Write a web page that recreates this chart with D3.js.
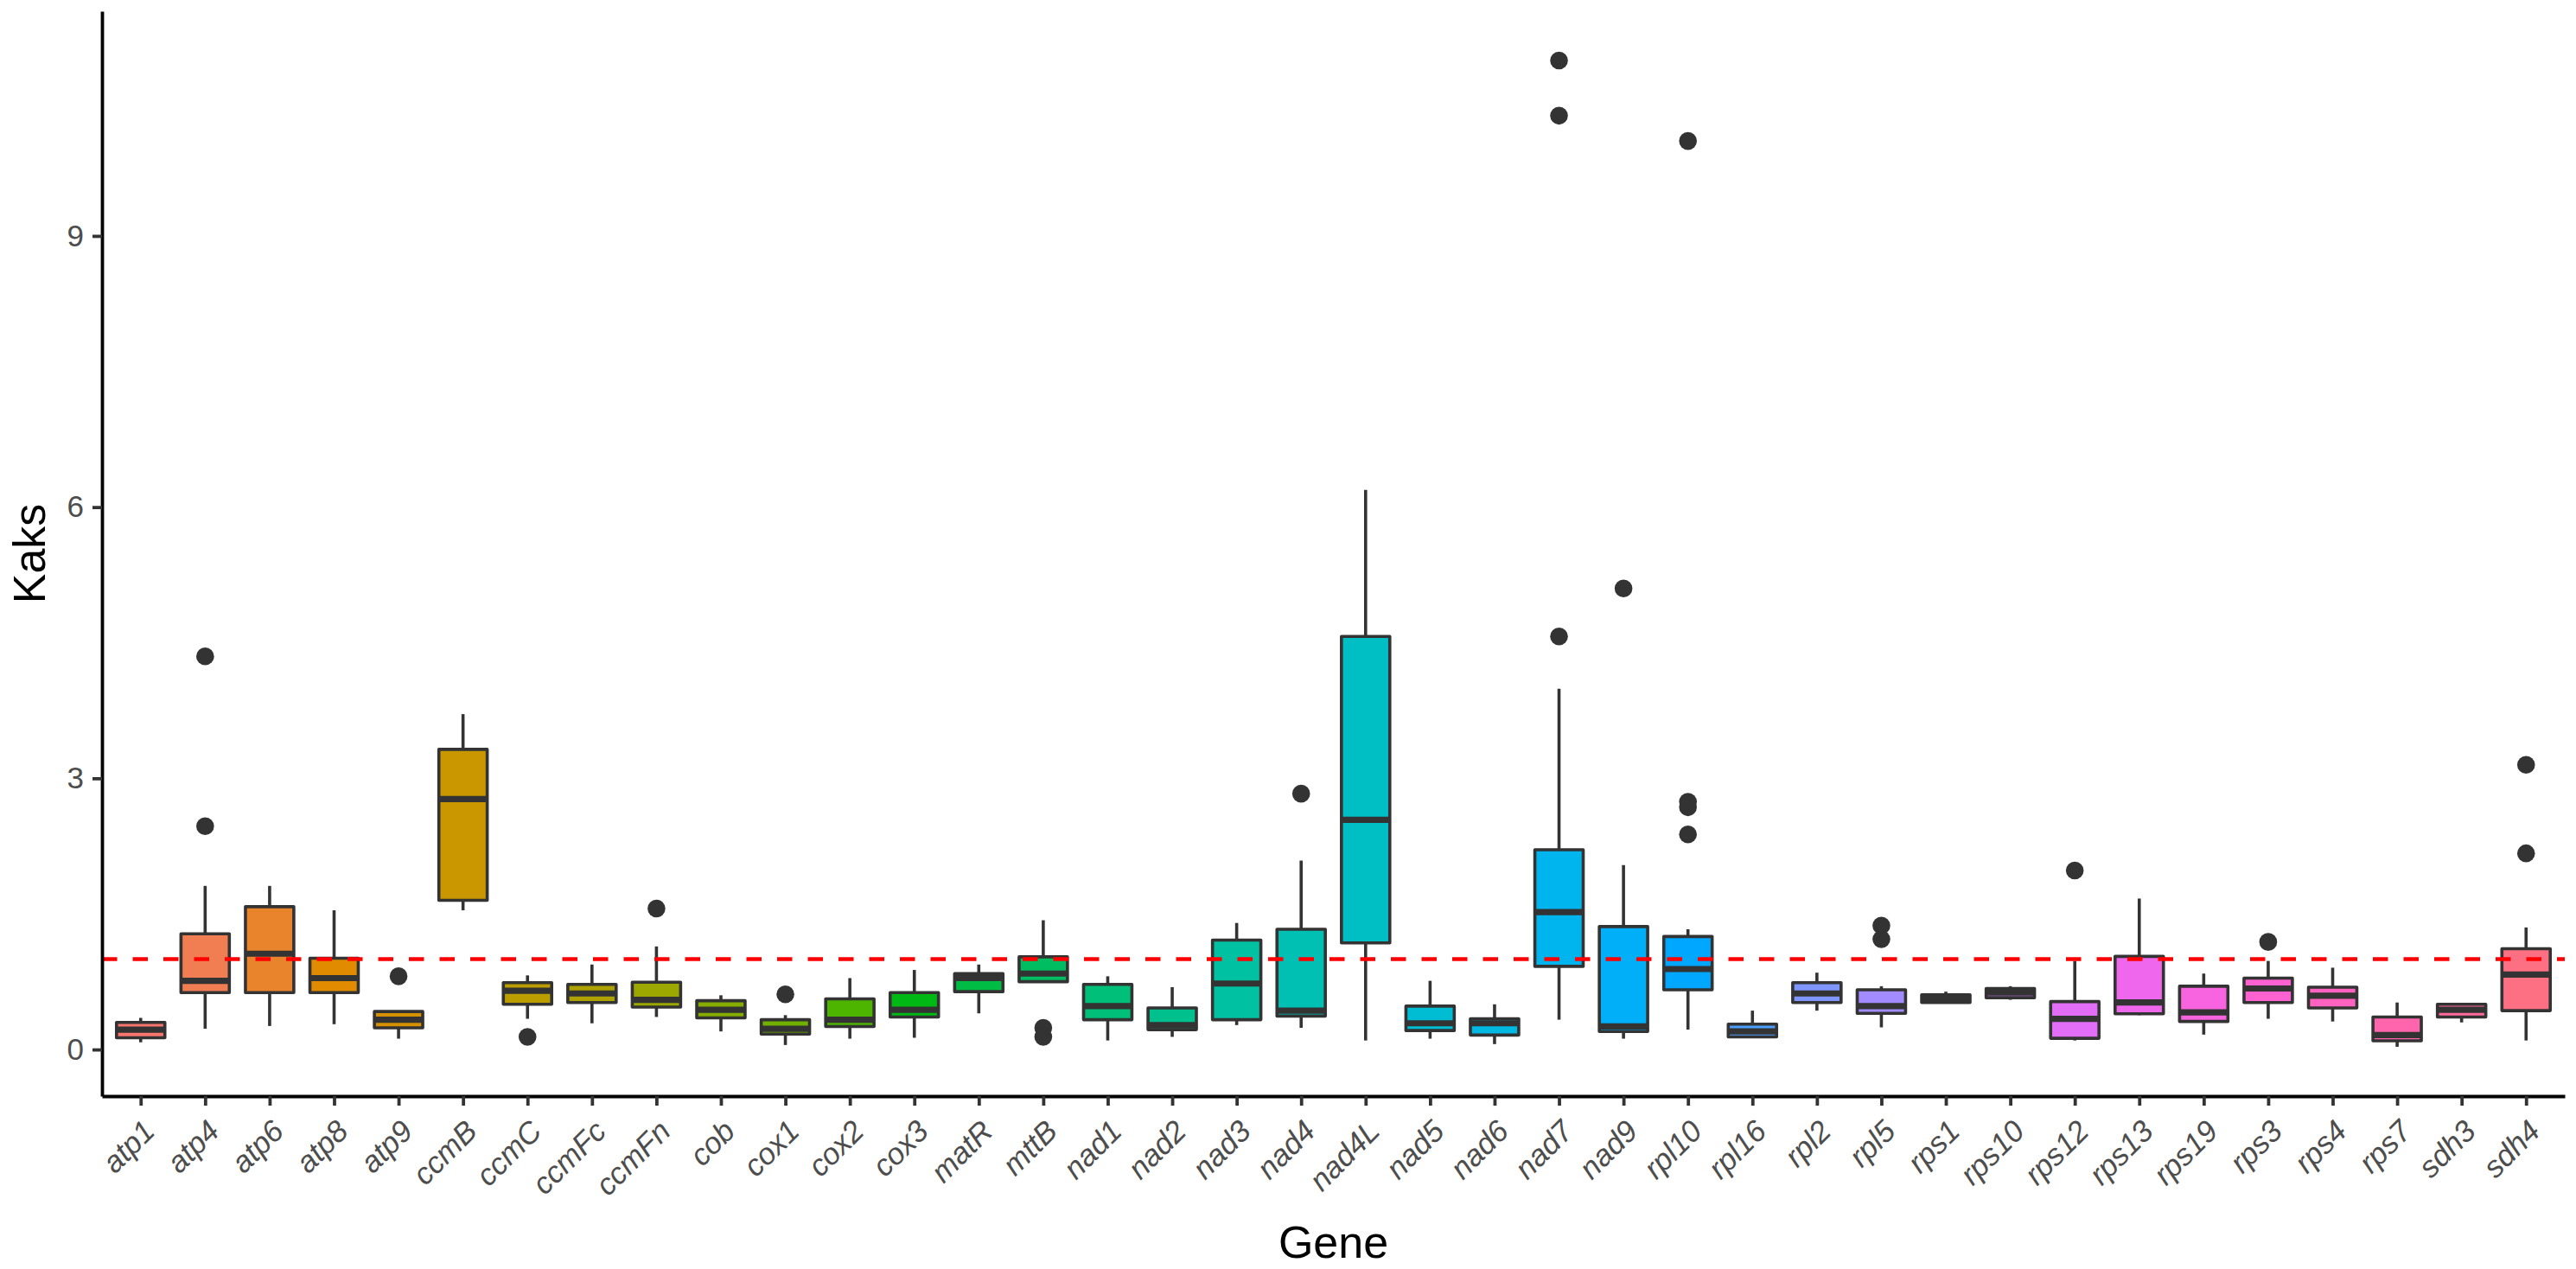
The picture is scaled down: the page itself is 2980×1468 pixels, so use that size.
<!DOCTYPE html>
<html>
<head>
<meta charset="utf-8">
<script src="https://cdn.jsdelivr.net/npm/d3@7"></script>
<style>
	body { margin: 0; background: #fff; }
	text { font-family: "Liberation Sans", Arial, sans-serif; }
</style>
</head>
<body>
<div id="chart"></div>
<script>

// genes on the x axis
var genes = ['atp1', 'atp4', 'atp6', 'atp8', 'atp9', 'ccmB', 'ccmC', 'ccmFc', 'ccmFn', 'cob',
	'cox1', 'cox2', 'cox3', 'matR', 'mttB', 'nad1', 'nad2', 'nad3', 'nad4', 'nad4L',
	'nad5', 'nad6', 'nad7', 'nad9', 'rpl10', 'rpl16', 'rpl2', 'rpl5', 'rps1', 'rps10',
	'rps12', 'rps13', 'rps19', 'rps3', 'rps4', 'rps7', 'sdh3', 'sdh4'];

// box statistics
var whiskerLow = [0.08, 0.23, 0.26, 0.28, 0.12, 1.54, 0.34, 0.29, 0.36, 0.20,
	0.05, 0.12, 0.13, 0.40, 0.75, 0.10, 0.14, 0.27, 0.24, 0.10,
	0.12, 0.06, 0.33, 0.12, 0.22, 0.14, 0.43, 0.245, 0.52, 0.55,
	0.10, 0.38, 0.165, 0.34, 0.31, 0.03, 0.30, 0.10];
var q1 = [0.13, 0.63, 0.63, 0.63, 0.24, 1.65, 0.50, 0.52, 0.47, 0.35,
	0.17, 0.255, 0.36, 0.64, 0.75, 0.33, 0.22, 0.33, 0.37, 1.18,
	0.21, 0.16, 0.92, 0.20, 0.66, 0.14, 0.52, 0.40, 0.52, 0.573,
	0.124, 0.395, 0.31, 0.52, 0.46, 0.096, 0.36, 0.43];
var median = [0.22, 0.76, 1.06, 0.79, 0.33, 2.77, 0.65, 0.62, 0.55, 0.44,
	0.23, 0.33, 0.44, 0.79, 0.84, 0.48, 0.27, 0.73, 0.43, 2.54,
	0.29, 0.29, 1.52, 0.255, 0.89, 0.20, 0.62, 0.48, 0.56, 0.63,
	0.34, 0.52, 0.41, 0.675, 0.595, 0.16, 0.44, 0.83];
var q3 = [0.30, 1.28, 1.58, 1.01, 0.42, 3.32, 0.74, 0.72, 0.745, 0.54,
	0.33, 0.56, 0.63, 0.84, 1.025, 0.72, 0.46, 1.21, 1.33, 4.57,
	0.48, 0.34, 2.21, 1.36, 1.25, 0.28, 0.74, 0.66, 0.605, 0.675,
	0.53, 1.03, 0.70, 0.79, 0.69, 0.36, 0.50, 1.115];
var whiskerHigh = [0.35, 1.81, 1.81, 1.54, 0.42, 3.71, 0.82, 0.94, 1.14, 0.60,
	0.38, 0.79, 0.88, 0.94, 1.43, 0.81, 0.69, 1.40, 2.09, 6.19,
	0.76, 0.50, 3.99, 2.04, 1.33, 0.43, 0.85, 0.70, 0.64, 0.70,
	0.98, 1.67, 0.84, 0.98, 0.905, 0.52, 0.50, 1.35];
var outliers = [[], [2.47, 4.35], [], [], [0.81], [], [0.14], [], [1.56], [],
	[0.61], [], [], [], [0.24, 0.14], [], [], [], [2.83], [],
	[], [], [4.57, 10.33, 10.94], [5.10], [2.38, 2.68, 2.74, 10.05], [], [], [1.22, 1.37], [], [],
	[1.98], [], [], [1.19], [], [], [], [2.17, 3.15]];

var yTicks = [0, 3, 6, 9];
var refLine = 1;

/**
 * ggplot-like hue palette (polar CIE-LUV, c = 100, l = 65)
 */
function hueColor(h) {
	var l = 65, c = 100;
	var hr = h * Math.PI / 180;
	var U = c * Math.cos(hr), V = c * Math.sin(hr);
	var Xn = 95.047, Yn = 100, Zn = 108.883;
	var un = 4 * Xn / (Xn + 15 * Yn + 3 * Zn);
	var vn = 9 * Yn / (Xn + 15 * Yn + 3 * Zn);
	var Y = Yn * Math.pow((l + 16) / 116, 3);
	var u = U / (13 * l) + un, v = V / (13 * l) + vn;
	var X = 9 * Y * u / (4 * v);
	var Z = Y * (12 - 3 * u - 20 * v) / (4 * v);
	X /= 100; Y /= 100; Z /= 100;
	var rgb = [
		3.240479 * X - 1.537150 * Y - 0.498535 * Z,
		-0.969256 * X + 1.875992 * Y + 0.041556 * Z,
		0.055648 * X - 0.204043 * Y + 1.057311 * Z
	].map(function(t) {
		t = t <= 0.0031308 ? 12.92 * t : 1.055 * Math.pow(t, 1 / 2.4) - 0.055;
		return Math.round(Math.max(0, Math.min(1, t)) * 255);
	});
	return d3.rgb(rgb[0], rgb[1], rgb[2]).formatHex();
}

var width = 2980, height = 1468;
var margin = {left: 118, right: 13, top: 13, bottom: 200};
var lineColor = '#333333';

var svg = d3.select('#chart').append('svg')
	.attr('width', width)
	.attr('height', height);

svg.append('rect').attr('width', width).attr('height', height).attr('fill', 'white');

var x = d3.scalePoint()
	.domain(genes)
	.range([margin.left, width - margin.right])
	.padding(0.6);

// y limits: data range expanded by 5%
var allVals = whiskerLow.concat(whiskerHigh, d3.merge(outliers));
var lo = d3.min(allVals), hi = d3.max(allVals), pad = (hi - lo) * 0.05;
var y = d3.scaleLinear()
	.domain([lo - pad, hi + pad])
	.range([height - margin.bottom, margin.top]);

var colors = d3.scaleOrdinal()
	.domain(genes)
	.range(genes.map(function(d, i) { return hueColor(15 + i * 360 / genes.length); }));

var boxW = x.step() * 0.75;
var data = genes.map(function(g, i) {
	return {gene: g, lo: whiskerLow[i], q1: q1[i], med: median[i], q3: q3[i], hi: whiskerHigh[i], out: outliers[i]};
});

var g = svg.append('g');

var box = g.selectAll('.box').data(data).enter().append('g')
	.attr('class', 'box')
	.attr('transform', function(d) { return 'translate(' + x(d.gene) + ',0)'; });

box.append('line')
	.attr('y1', function(d) { return y(d.hi); })
	.attr('y2', function(d) { return y(d.q3); })
	.attr('stroke', lineColor).attr('stroke-width', 3.6);

box.append('line')
	.attr('y1', function(d) { return y(d.lo); })
	.attr('y2', function(d) { return y(d.q1); })
	.attr('stroke', lineColor).attr('stroke-width', 3.6);

box.append('rect')
	.attr('x', -boxW / 2)
	.attr('width', boxW)
	.attr('y', function(d) { return y(d.q3); })
	.attr('height', function(d) { return y(d.q1) - y(d.q3); })
	.attr('fill', function(d) { return colors(d.gene); })
	.attr('stroke', lineColor)
	.attr('stroke-width', 3.6)
	.attr('stroke-linejoin', 'round');

box.append('line')
	.attr('x1', -boxW / 2)
	.attr('x2', boxW / 2)
	.attr('y1', function(d) { return y(d.med); })
	.attr('y2', function(d) { return y(d.med); })
	.attr('stroke', lineColor).attr('stroke-width', 7.2);

box.selectAll('circle').data(function(d) { return d.out; }).enter().append('circle')
	.attr('r', 10.3)
	.attr('cy', function(d) { return y(d); })
	.attr('fill', lineColor);

// reference line at Ka/Ks = 1
g.append('line')
	.attr('x1', margin.left)
	.attr('x2', width - margin.right)
	.attr('y1', y(refLine))
	.attr('y2', y(refLine))
	.attr('stroke', '#FF0000')
	.attr('stroke-width', 4.5)
	.attr('stroke-dasharray', '17.5 18');

// axes
var yAxis = svg.append('g')
	.attr('transform', 'translate(' + margin.left + ',0)')
	.call(d3.axisLeft(y).tickValues(yTicks).tickSize(11).tickSizeOuter(0).tickPadding(10));

var xAxis = svg.append('g')
	.attr('transform', 'translate(0,' + (height - margin.bottom) + ')')
	.call(d3.axisBottom(x).tickSize(11).tickSizeOuter(0).tickPadding(10));

[yAxis, xAxis].forEach(function(a) {
	a.select('.domain').attr('stroke', 'black').attr('stroke-width', 3.8);
	a.selectAll('.tick line').attr('stroke', lineColor).attr('stroke-width', 3.8);
	a.selectAll('.tick text')
		.attr('fill', '#4D4D4D')
		.attr('font-size', '35px')
		.attr('font-family', '"Liberation Sans", Arial, sans-serif');
});

xAxis.selectAll('.tick text')
	.attr('font-style', 'italic')
	.attr('text-anchor', 'end')
	.attr('y', 0)
	.attr('dy', '0.72em')
	.attr('transform', 'translate(0,25) rotate(-45)');

// titles
svg.append('text')
	.attr('x', (margin.left + width - margin.right) / 2)
	.attr('y', 1455)
	.attr('text-anchor', 'middle')
	.attr('font-size', '52px')
	.attr('fill', 'black')
	.text('Gene');

svg.append('text')
	.attr('transform', 'translate(52,' + ((margin.top + height - margin.bottom) / 2) + ') rotate(-90)')
	.attr('text-anchor', 'middle')
	.attr('font-size', '52px')
	.attr('fill', 'black')
	.text('Kaks');

</script>
</body>
</html>
